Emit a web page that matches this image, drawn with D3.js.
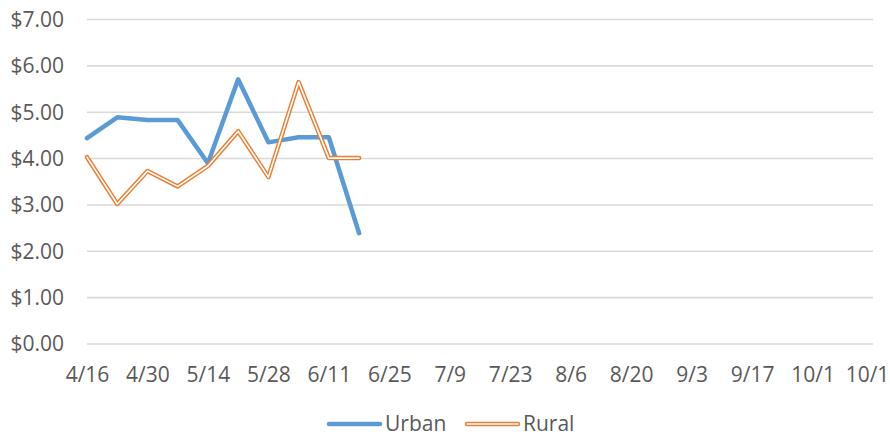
<!DOCTYPE html>
<html>
<head>
<meta charset="utf-8">
<script src="https://cdn.jsdelivr.net/npm/d3@7"></script>
<style>
  html, body { margin: 0; padding: 0; background: #fff; }
  svg { display: block; }
  text { font-family: "Open Sans", "Liberation Sans", sans-serif; fill: #595959; }
</style>
</head>
<body>
<svg id="chart" width="890" height="437"></svg>
<script>
// weekly dates (year is arbitrary, only month/day shown)
const weeks = ["2020-04-16", "2020-04-23", "2020-04-30", "2020-05-07", "2020-05-14",
               "2020-05-21", "2020-05-28", "2020-06-04", "2020-06-11", "2020-06-18"];
const urban = [4.44, 4.89, 4.83, 4.83, 3.90, 5.71, 4.35, 4.46, 4.46, 2.39];
const rural = [4.03, 3.02, 3.73, 3.40, 3.84, 4.59, 3.60, 5.65, 4.01, 4.01];
const axisStart = "2020-04-16";
const axisEnd = "2020-10-15";
const yTicks = [0, 1, 2, 3, 4, 5, 6, 7];
const seriesNames = ["Urban", "Rural"];

const blue = "#5B9BD5", orange = "#ED7D31";
const parse = d3.utcParse("%Y-%m-%d");

const svg = d3.select("#chart");
const margin = { top: 19.5, right: 17, bottom: 93, left: 87 };
const width = 890 - margin.left - margin.right;
const height = 437 - margin.top - margin.bottom;

const x = d3.scaleUtc().domain([parse(axisStart), parse(axisEnd)]).range([0, width]);
const y = d3.scaleLinear().domain([0, 7]).range([height, 0]);

const g = svg.append("g").attr("transform", `translate(${margin.left},${margin.top})`);

// gridlines
g.selectAll(".grid")
  .data(yTicks)
  .join("line")
  .attr("class", "grid")
  .attr("x1", 0).attr("x2", width)
  .attr("y1", d => y(d)).attr("y2", d => y(d))
  .attr("stroke", "#D9D9D9")
  .attr("stroke-width", 1.6);

// y labels
g.selectAll(".ylab")
  .data(yTicks)
  .join("text")
  .attr("class", "ylab")
  .attr("x", -23)
  .attr("y", d => y(d))
  .attr("dy", "0.35em")
  .attr("text-anchor", "end")
  .attr("font-size", 21)
  .text(d => "$" + d.toFixed(2));

// x axis labels every two weeks
const xTickDates = d3.range(0, 27, 2).map(i => d3.utcDay.offset(parse(axisStart), i * 7));
const xAxis = g.append("g")
  .attr("transform", `translate(0,${height})`)
  .call(d3.axisBottom(x).tickValues(xTickDates)
    .tickFormat(d3.utcFormat("%-m/%-d")).tickSize(0).tickPadding(0));
xAxis.select(".domain").remove();
xAxis.selectAll("text")
  .attr("font-size", 21)
  .attr("dy", null)
  .attr("y", 38)
  .attr("fill", "#595959");

// the last label runs off the chart edge, like the original: keep the part that fits
xAxis.selectAll("text").each(function() {
  const t = d3.select(this);
  if (this.getBoundingClientRect().right <= 890) return;
  t.attr("text-anchor", "start").attr("x", -this.getComputedTextLength() / 2);
  let s = t.text();
  while (s.length > 1 && this.getBoundingClientRect().right > 890.5) {
    s = s.slice(0, -1);
    t.text(s);
  }
});

const line = d3.line().x((d, i) => x(parse(weeks[i]))).y(d => y(d));

g.append("path")
  .datum(urban)
  .attr("fill", "none")
  .attr("stroke", blue)
  .attr("stroke-width", 4.5)
  .attr("stroke-linejoin", "round")
  .attr("stroke-linecap", "round")
  .attr("d", line);

// rural drawn as a double (compound) line
g.append("path")
  .datum(rural)
  .attr("fill", "none")
  .attr("stroke", orange)
  .attr("stroke-width", 4.5)
  .attr("stroke-linejoin", "round")
  .attr("stroke-linecap", "round")
  .attr("d", line);
g.append("path")
  .datum(rural)
  .attr("fill", "none")
  .attr("stroke", "#fff")
  .attr("stroke-width", 1.6)
  .attr("stroke-linejoin", "round")
  .attr("stroke-linecap", "round")
  .attr("d", line);

// legend
const legend = svg.append("g").attr("transform", "translate(327,424)");
const items = legend.selectAll("g")
  .data(seriesNames)
  .join("g")
  .attr("transform", (_, i) => `translate(${i * 138},0)`);

items.append("line")
  .attr("x1", 2).attr("x2", 53)
  .attr("stroke", (_, i) => i === 0 ? blue : orange)
  .attr("stroke-width", 4.5)
  .attr("stroke-linecap", "round");
items.filter((_, i) => i === 1).append("line")
  .attr("x1", 2).attr("x2", 53)
  .attr("stroke", "#fff")
  .attr("stroke-width", 1.6)
  .attr("stroke-linecap", "round");
items.append("text")
  .attr("x", 58)
  .attr("y", 0)
  .attr("dy", "0.35em")
  .attr("font-size", 21)
  .text(d => d);
</script>
</body>
</html>
